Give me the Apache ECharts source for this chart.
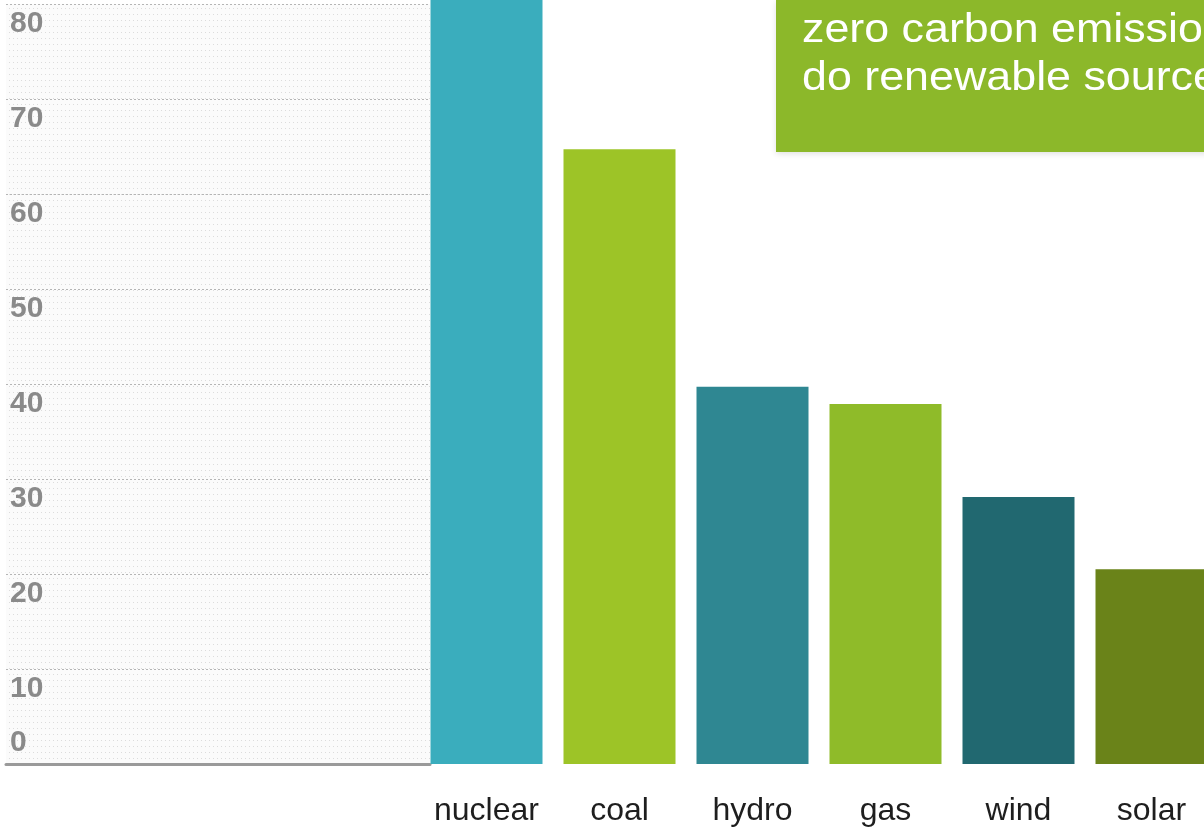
<!DOCTYPE html>
<html>
<head>
<meta charset="utf-8">
<script src="https://cdn.jsdelivr.net/npm/echarts@6/dist/echarts.min.js"></script>
<style>
  html, body { margin: 0; padding: 0; background: #fff; }
  #chart { width: 1204px; height: 829px; }
</style>
</head>
<body>
<div id="chart"></div>
<script>
// 数据
const categories = ['nuclear', 'coal', 'hydro', 'gas', 'wind', 'solar'];
const values = [85, 64.7, 39.7, 37.9, 28.1, 20.5];
const barColors = ['#3aadbd', '#9dc427', '#2f8792', '#8fbb29', '#216870', '#6a8319'];
const calloutLines = ['zero carbon emissions', 'do renewable sources'];

/**
 * 左侧网格的点状底纹
 */
function dotPattern() {
  const c = document.createElement('canvas');
  c.width = 4;
  c.height = 6;
  const ctx = c.getContext('2d');
  ctx.fillStyle = '#fbfbfb';
  ctx.fillRect(0, 0, 4, 6);
  ctx.fillStyle = '#dcdcdc';
  ctx.fillRect(1, 2, 1, 1);
  return { image: c, repeat: 'repeat' };
}

const labelFont = {
  fontFamily: 'Liberation Sans, Arial, sans-serif',
  fontSize: 30,
  fontWeight: 'bold',
  color: '#8a8a8a'
};

const chartOpts = {
  backgroundColor: '#fff',
  animation: false,
  grid: [
    { left: 6, width: 424, top: 4, bottom: 65, show: true, borderWidth: 0, backgroundColor: dotPattern() },
    { left: 420, width: 798, top: 4, bottom: 65, outerBoundsMode: 'none', containLabel: false }
  ],
  xAxis: [
    {
      gridIndex: 0,
      type: 'value',
      axisLine: { show: true, onZero: false, lineStyle: { color: '#9a9a9a', width: 3 } },
      axisTick: { show: false },
      axisLabel: { show: false },
      splitLine: { show: false }
    },
    {
      gridIndex: 1,
      type: 'category',
      data: categories,
      axisLine: { show: false },
      axisTick: { show: false },
      axisLabel: {
        interval: 0,
        margin: 31,
        fontFamily: 'Liberation Sans, Arial, sans-serif',
        fontSize: 32,
        color: '#1e1e1e'
      }
    }
  ],
  yAxis: [
    {
      gridIndex: 0,
      type: 'value',
      min: 0,
      max: 80,
      interval: 10,
      axisLine: { show: false },
      axisTick: { show: false },
      axisLabel: Object.assign({
        inside: true,
        margin: 4,
        verticalAlign: 'top',
        padding: [5, 0, 0, 0],
        showMinLabel: false
      }, labelFont),
      splitLine: { lineStyle: { color: '#b5b5b5', type: [2, 2], width: 1 } }
    },
    {
      gridIndex: 0,
      type: 'value',
      position: 'left',
      min: 0,
      max: 80,
      interval: 10,
      axisLine: { show: false },
      axisTick: { show: false },
      axisLabel: Object.assign({
        inside: true,
        margin: 4,
        verticalAlign: 'bottom',
        padding: [0, 0, 6, 0],
        formatter: v => (v === 0 ? '0' : '')
      }, labelFont),
      splitLine: { show: false }
    },
    {
      gridIndex: 1,
      type: 'value',
      min: 0,
      max: 80,
      show: false
    }
  ],
  series: [
    {
      type: 'bar',
      xAxisIndex: 1,
      yAxisIndex: 2,
      barWidth: 112,
      clip: false,
      data: values.map((v, i) => ({ value: v, itemStyle: { color: barColors[i] } }))
    }
  ],
  graphic: [
    {
      type: 'group',
      left: 776,
      top: 0,
      children: [
        {
          type: 'rect',
          shape: { x: 0, y: 0, width: 460, height: 152 },
          style: { fill: '#8cb82a', shadowBlur: 6, shadowColor: 'rgba(0,0,0,0.12)', shadowOffsetY: 2 }
        },
        {
          type: 'text',
          x: 26,
          y: 7,
          scaleX: 1.12,
          style: {
            text: calloutLines.join('\n'),
            fill: '#fff',
            font: '40px Liberation Sans, Arial, sans-serif',
            lineHeight: 48
          }
        }
      ]
    }
  ]
};

const chart = echarts.init(document.getElementById('chart'));
chart.setOption(chartOpts);
</script>
</body>
</html>
